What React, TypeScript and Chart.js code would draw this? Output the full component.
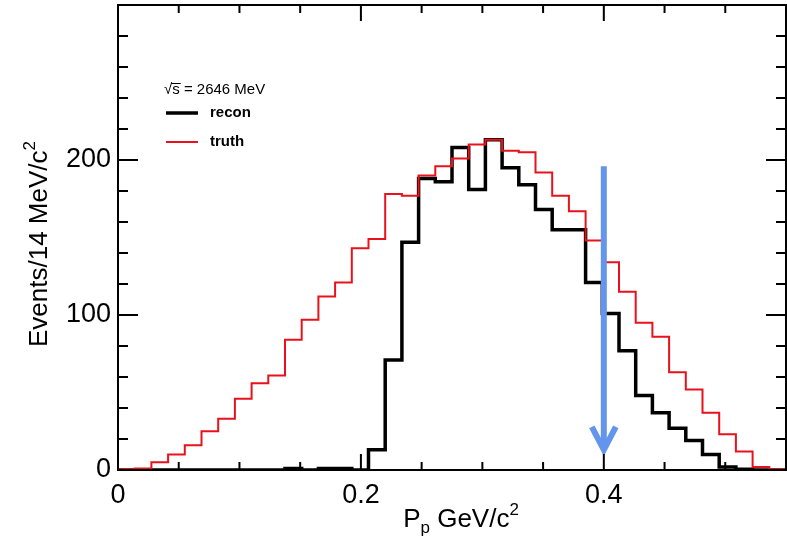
import React, { useEffect, useRef } from 'react';
import { Chart, registerables } from 'chart.js';

Chart.register(...registerables);

// ---- data ----
const xMin = 0;
const xMax = 0.55;
const yMin = 0;
const yMax = 300;
const xLabelTicks = [0, 0.2, 0.4];
const xMinorStep = 0.05;
const yLabelTicks = [0, 100, 200];
const yMinorStep = 20;
const yMajorStep = 100;

const reconLabel = 'recon';
const truthLabel = 'truth';
const energyText = '2646 MeV';

const truthValues = [
  0.5, 1, 5, 10, 16, 25, 33, 46, 56, 61,
  84, 97, 112, 121, 143, 149, 178, 177, 190, 196,
  201, 210, 213, 206, 205, 192, 177, 167, 148, 134,
  115, 95, 86, 63, 52, 37, 23, 12, 2, 0.5,
];
const reconValues = [
  0, 0, 0, 0, 0, 0, 0, 0, 0, 0,
  1, 0, 1, 1, 0, 13, 71, 147, 188, 186,
  208, 181, 213, 195, 184, 168, 155, 155, 121, 101,
  77, 48, 37, 27, 19, 10, 2, 0.5, 0, 0,
];

const markerX = 0.4;
const markerTop = 196;
const markerBottom = 13;

const FONT = '"Liberation Sans", Arial, Helvetica, sans-serif';

function toSteps(values: number[]) {
  const w = (xMax - xMin) / values.length;
  const pts = values.map((v, i) => ({ x: xMin + i * w, y: v }));
  pts.push({ x: xMax, y: values[values.length - 1] });
  return pts;
}

const decorPlugin = {
  id: 'rootDecor',
  afterDatasetsDraw(chart: any) {
    const { ctx, chartArea: a, scales } = chart;
    const xs = scales.x;
    const ys = scales.y;
    ctx.save();

    // blue arrow
    const ax = xs.getPixelForValue(markerX);
    const aTop = ys.getPixelForValue(markerTop);
    const aBot = ys.getPixelForValue(markerBottom);
    ctx.strokeStyle = '#6495ED';
    ctx.lineWidth = 6;
    ctx.lineCap = 'butt';
    ctx.beginPath();
    ctx.moveTo(ax, aTop);
    ctx.lineTo(ax, aBot - 2);
    ctx.stroke();
    ctx.lineJoin = 'miter';
    ctx.beginPath();
    ctx.moveTo(ax - 12, aBot - 23);
    ctx.lineTo(ax, aBot);
    ctx.lineTo(ax + 12, aBot - 23);
    ctx.stroke();

    // frame
    ctx.strokeStyle = '#000';
    ctx.lineWidth = 2;
    ctx.strokeRect(a.left, a.top, a.right - a.left, a.bottom - a.top);

    // ticks
    ctx.lineWidth = 2;
    ctx.beginPath();
    const nx = Math.round((xMax - xMin) / xMinorStep);
    for (let i = 0; i <= nx; i++) {
      const v = xMin + i * xMinorStep;
      const major = xLabelTicks.some((t) => Math.abs(t - v) < 1e-9);
      const len = major ? 16 : 8;
      const px = xs.getPixelForValue(v);
      ctx.moveTo(px, a.bottom);
      ctx.lineTo(px, a.bottom - len);
      ctx.moveTo(px, a.top);
      ctx.lineTo(px, a.top + len);
    }
    const ny = Math.round((yMax - yMin) / yMinorStep);
    for (let i = 0; i <= ny; i++) {
      const v = yMin + i * yMinorStep;
      const major = Math.abs(v % yMajorStep) < 1e-9;
      const len = major ? 20 : 10;
      const py = ys.getPixelForValue(v);
      ctx.moveTo(a.left, py);
      ctx.lineTo(a.left + len, py);
      ctx.moveTo(a.right, py);
      ctx.lineTo(a.right - len, py);
    }
    ctx.stroke();

    // legend
    const ds = chart.data.datasets;
    const lx = a.left + 48;
    ctx.fillStyle = '#000';
    ctx.textBaseline = 'middle';
    ctx.textAlign = 'left';
    ctx.font = `15px ${FONT}`;
    ctx.fillText('√', lx - 2, 90);
    const rw = ctx.measureText('√').width;
    ctx.fillText('s', lx - 2 + rw, 90);
    const sw = ctx.measureText('s').width;
    ctx.lineWidth = 1;
    ctx.beginPath();
    ctx.moveTo(lx - 2 + rw - 1, 83.5);
    ctx.lineTo(lx - 2 + rw + sw + 1, 83.5);
    ctx.stroke();
    ctx.fillText(' = ' + energyText, lx - 2 + rw + sw, 90);

    const entries = [ds[1], ds[0]];
    entries.forEach((d: any, i: number) => {
      const yy = 113 + i * 29;
      ctx.strokeStyle = d.borderColor;
      ctx.lineWidth = d.borderWidth;
      ctx.beginPath();
      ctx.moveTo(lx, yy);
      ctx.lineTo(lx + 32, yy);
      ctx.stroke();
      ctx.fillStyle = '#000';
      ctx.font = `bold 15px ${FONT}`;
      ctx.fillText(d.label, lx + 44, yy);
    });

    // axis titles
    ctx.fillStyle = '#000';
    ctx.textBaseline = 'alphabetic';
    const big = 26;
    const small = 17;
    ctx.save();
    ctx.translate(47, 244);
    ctx.rotate(-Math.PI / 2);
    ctx.font = `${big}px ${FONT}`;
    const t1 = 'Events/14 MeV/c';
    const w1 = ctx.measureText(t1).width;
    ctx.font = `${small}px ${FONT}`;
    const w2 = ctx.measureText('2').width;
    const startX = -(w1 + w2) / 2;
    ctx.font = `${big}px ${FONT}`;
    ctx.fillText(t1, startX, 0);
    ctx.font = `${small}px ${FONT}`;
    ctx.fillText('2', startX + w1, -12);
    ctx.restore();

    ctx.font = `${big}px ${FONT}`;
    const pW = ctx.measureText('P').width;
    const gW = ctx.measureText(' GeV/c').width;
    ctx.font = `${small}px ${FONT}`;
    const subW = ctx.measureText('p').width;
    const supW = ctx.measureText('2').width;
    const total = pW + subW + gW + supW;
    let cx = 461 - total / 2;
    const by = 527;
    ctx.font = `${big}px ${FONT}`;
    ctx.fillText('P', cx, by);
    cx += pW;
    ctx.font = `${small}px ${FONT}`;
    ctx.fillText('p', cx, by + 6);
    cx += subW;
    ctx.font = `${big}px ${FONT}`;
    ctx.fillText(' GeV/c', cx, by);
    cx += gW;
    ctx.font = `${small}px ${FONT}`;
    ctx.fillText('2', cx, by - 12);

    ctx.restore();
  },
};

export default function App() {
  const ref = useRef<HTMLCanvasElement | null>(null);
  useEffect(() => {
    if (!ref.current) return;
    const chart = new Chart(ref.current, {
      type: 'line',
      data: {
        datasets: [
          {
            label: truthLabel,
            data: toSteps(truthValues),
            borderColor: '#e8121c',
            borderWidth: 2,
            pointRadius: 0,
            stepped: 'before',
            fill: false,
            order: 0,
          },
          {
            label: reconLabel,
            data: toSteps(reconValues),
            borderColor: '#000000',
            borderWidth: 3.5,
            pointRadius: 0,
            stepped: 'before',
            fill: false,
            order: 1,
          },
        ],
      },
      options: {
        responsive: false,
        animation: false,
        layout: { padding: { left: 0, top: 5, right: 1, bottom: 0 } },
        plugins: { legend: { display: false }, tooltip: { enabled: false }, title: { display: false } },
        scales: {
          x: {
            type: 'linear',
            min: xMin,
            max: xMax,
            grid: { display: false, drawTicks: false },
            border: { display: false },
            ticks: {
              stepSize: 0.2,
              includeBounds: false,
              autoSkip: false,
              maxRotation: 0,
              padding: 9,
              color: '#000',
              font: { family: FONT, size: 27 },
              callback: (v: any) => {
                const n = Number(v);
                if (!xLabelTicks.some((t) => Math.abs(t - n) < 1e-9)) return '';
                return n === 0 ? '0' : n.toFixed(1);
              },
            },
            afterFit: (s: any) => {
              s.height = 66;
              s.paddingLeft = 0;
              s.paddingRight = 0;
              s.paddingTop = 0;
              s.paddingBottom = 0;
            },
          },
          y: {
            type: 'linear',
            min: yMin,
            max: yMax,
            grid: { display: false, drawTicks: false },
            border: { display: false },
            ticks: {
              stepSize: yMajorStep,
              autoSkip: false,
              padding: 7,
              color: '#000',
              font: { family: FONT, size: 27 },
              callback: (v: any) => {
                const n = Number(v);
                return yLabelTicks.includes(n) ? String(n) : '';
              },
            },
            afterFit: (s: any) => {
              s.width = 118;
              s.paddingLeft = 0;
              s.paddingRight = 0;
              s.paddingTop = 0;
              s.paddingBottom = 0;
            },
          },
        },
      },
      plugins: [decorPlugin],
    } as any);
    return () => chart.destroy();
  }, []);

  return (
    <div style={{ position: 'fixed', left: 0, top: 0, width: 787, height: 536, background: '#fff' }}>
      <canvas ref={ref} width={787} height={536} style={{ width: 787, height: 536 }} />
    </div>
  );
}
